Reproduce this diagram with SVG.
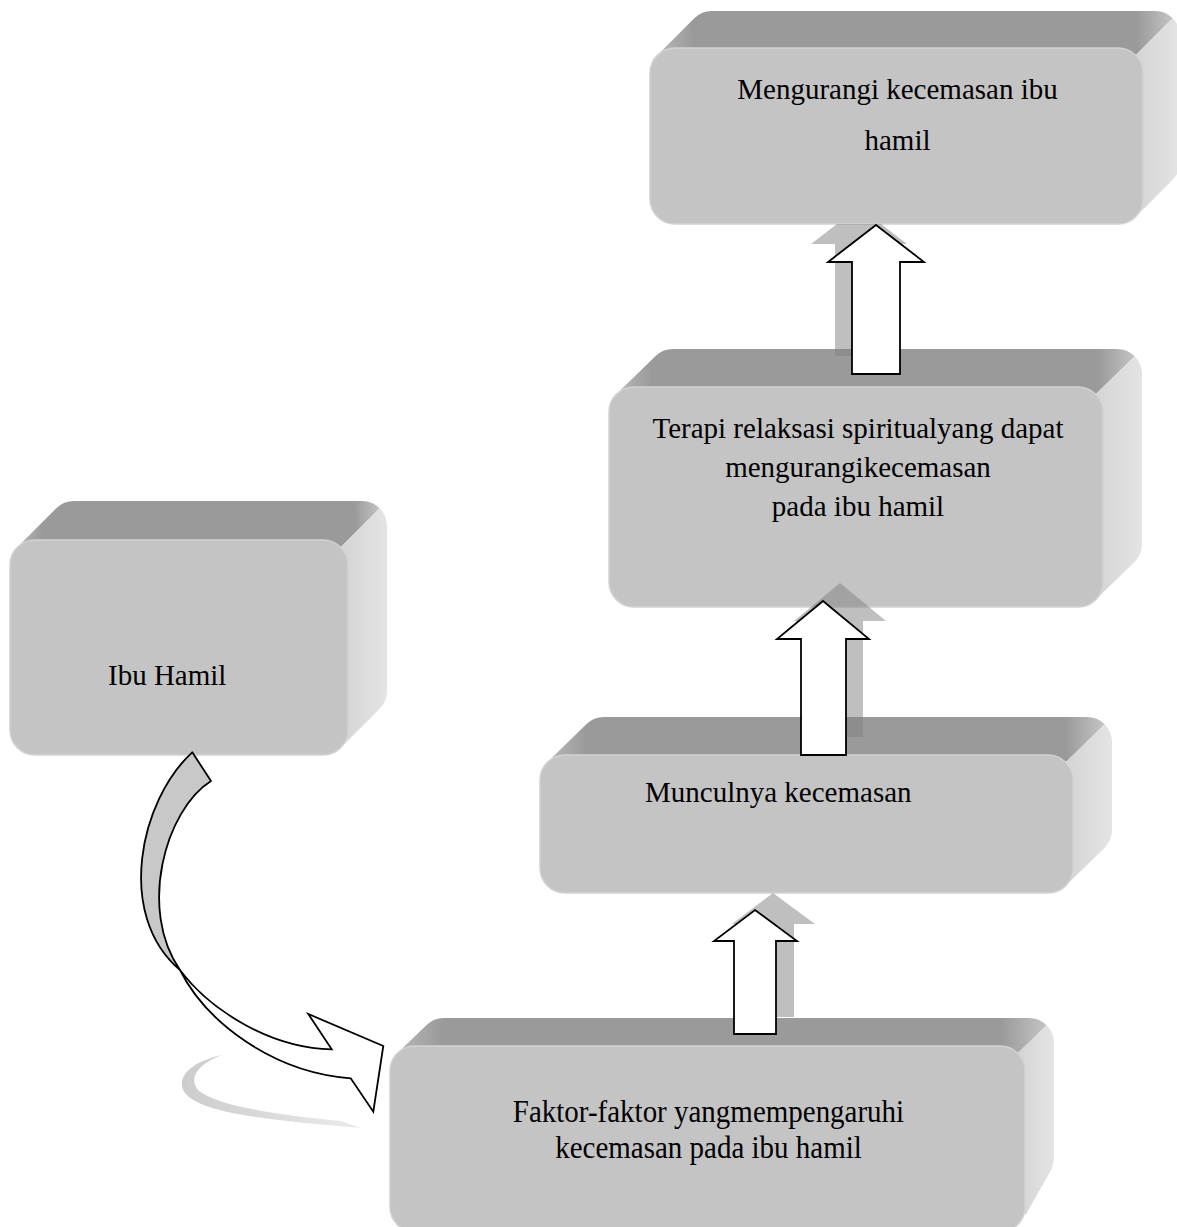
<svg xmlns="http://www.w3.org/2000/svg" width="1177" height="1227" viewBox="0 0 1177 1227">
<style>
.top{fill:url(#topGrad)}
.side{fill:url(#sideGrad)}
.front{fill:#c4c4c4;stroke:#d2d2d2;stroke-width:1.5}
.lbl{font-family:"Liberation Serif","Times New Roman",serif;font-size:29px;fill:#000}
.mid{text-anchor:middle}
.arrow{fill:#fff;stroke:#000;stroke-width:1.8;stroke-linejoin:miter}
.shadow{fill:#808080;fill-opacity:0.5}
</style>
<defs>
<linearGradient id="topGrad" x1="0" y1="0" x2="1" y2="0">
<stop offset="0" stop-color="#b8b8b8"/>
<stop offset="0.07" stop-color="#9a9a9a"/>
<stop offset="0.93" stop-color="#9a9a9a"/>
<stop offset="1" stop-color="#c4c4c4"/>
</linearGradient>
<linearGradient id="sideGrad" x1="0" y1="0" x2="1" y2="0">
<stop offset="0" stop-color="#d4d4d4"/>
<stop offset="1" stop-color="#e4e4e4"/>
</linearGradient>
<linearGradient id="swirlGrad" x1="0" y1="0" x2="1" y2="0">
<stop offset="0" stop-color="#cccccc"/>
<stop offset="1" stop-color="#ebebeb"/>
</linearGradient>
</defs>
<rect width="1177" height="1227" fill="#fff"/>

<g id="node-mengurangi">
<path class="top" d="M657.3,55.3 L694.3,18.3 A25 25 0 0 1 712,11 L1155,11 A25 25 0 0 1 1172.7,18.3 L1135.7,55.3 A25 25 0 0 0 1118,48 L675,48 A25 25 0 0 0 657.3,55.3 Z"/>
<path class="side" d="M1172.7,18.3 A25 25 0 0 1 1180,36 L1180,162 A25 25 0 0 1 1172.7,179.7 L1135.7,216.7 A25 25 0 0 0 1143,199 L1143,73 A25 25 0 0 0 1135.7,55.3 Z"/>
<rect class="front" x="650" y="48" width="493" height="176" rx="25"/>
<text class="lbl mid" x="897.5" y="99">Mengurangi kecemasan ibu</text>
<text class="lbl mid" x="897.5" y="150">hamil</text>
</g>

<g id="node-terapi">
<path class="top" d="M616.3,394.3 L655.3,356.3 A25 25 0 0 1 673,349 L1117,349 A25 25 0 0 1 1134.7,356.3 L1095.7,394.3 A25 25 0 0 0 1078,387 L634,387 A25 25 0 0 0 616.3,394.3 Z"/>
<path class="side" d="M1134.7,356.3 A25 25 0 0 1 1142,374 L1142,544 A25 25 0 0 1 1134.7,561.7 L1095.7,599.7 A25 25 0 0 0 1103,582 L1103,412 A25 25 0 0 0 1095.7,394.3 Z"/>
<rect class="front" x="609" y="387" width="494" height="220" rx="25"/>
<text class="lbl mid" x="858" y="438">Terapi relaksasi spiritualyang dapat</text>
<text class="lbl mid" x="858" y="477">mengurangikecemasan</text>
<text class="lbl mid" x="858" y="516">pada ibu hamil</text>
</g>

<g id="node-ibu-hamil">
<path class="top" d="M17.3,547.3 L56.3,508.3 A25 25 0 0 1 74,501 L362,501 A25 25 0 0 1 379.7,508.3 L340.7,547.3 A25 25 0 0 0 323,540 L35,540 A25 25 0 0 0 17.3,547.3 Z"/>
<path class="side" d="M379.7,508.3 A25 25 0 0 1 387,526 L387,691 A25 25 0 0 1 379.7,708.7 L340.7,747.7 A25 25 0 0 0 348,730 L348,565 A25 25 0 0 0 340.7,547.3 Z"/>
<rect class="front" x="10" y="540" width="338" height="215" rx="25"/>
<text class="lbl" x="108" y="685">Ibu Hamil</text>
</g>

<g id="node-munculnya">
<path class="top" d="M547.3,762.3 L586.3,724.3 A25 25 0 0 1 604,717 L1087,717 A25 25 0 0 1 1104.7,724.3 L1065.7,762.3 A25 25 0 0 0 1048,755 L565,755 A25 25 0 0 0 547.3,762.3 Z"/>
<path class="side" d="M1104.7,724.3 A25 25 0 0 1 1112,742 L1112,830 A25 25 0 0 1 1104.7,847.7 L1065.7,885.7 A25 25 0 0 0 1073,868 L1073,780 A25 25 0 0 0 1065.7,762.3 Z"/>
<rect class="front" x="540" y="755" width="533" height="138" rx="25"/>
<text class="lbl" x="645" y="802">Munculnya kecemasan</text>
</g>

<g id="node-faktor">
<path class="top" d="M397.3,1053.3 L426.3,1025.3 A25 25 0 0 1 444,1018 L1029,1018 A25 25 0 0 1 1046.7,1025.3 L1017.7,1053.3 A25 25 0 0 0 1000,1046 L415,1046 A25 25 0 0 0 397.3,1053.3 Z"/>
<path class="side" d="M1046.7,1025.3 A25 25 0 0 1 1054,1043 L1054,1156 Q1054,1165 1050,1172 L1025,1216 L1025,1071 A25 25 0 0 0 1017.7,1053.3 Z"/>
<rect class="front" x="390" y="1046" width="635" height="186" rx="25"/>
<text class="lbl mid" transform="translate(708.5,1122) scale(1,1.12)">Faktor-faktor yangmempengaruhi</text>
<text class="lbl mid" transform="translate(708.5,1158) scale(1,1.12)">kecemasan pada ibu hamil</text>
</g>

<g id="connectors">
<path d="M222,1055 C190,1062 175,1078 185,1093 C200,1112 260,1120 362,1128 L340,1121 C270,1114 215,1105 198,1090 C188,1078 198,1064 222,1055 Z" fill="url(#swirlGrad)"/>
<path d="M192.3,752.3 C140,800 115,915 180,970 C138,910 165,810 211,781 Z" fill="#c8c8c8" stroke="#000" stroke-width="1.8" stroke-linejoin="round"/>
<path class="arrow" d="M180,970 C205,1020 270,1072 350.7,1078.3 L373.3,1111.7 L383.3,1046 L308.3,1014 L331.7,1049.3 C270,1048 210,1010 180,970 Z"/>

<polygon class="shadow" points="837,224 881,224 907,244 883,244 883,356 835,356 835,244 811,244"/>
<polygon class="arrow" points="876,225 924,262 900,262 900,374 852,374 852,262 828,262"/>

<polygon class="shadow" points="840,583 886,621 863,621 863,737 818,737 818,621 794,621"/>
<polygon class="arrow" points="823,601 869,639 846,639 846,755 801,755 801,639 777,639"/>

<polygon class="shadow" points="773,893 815,924 794,924 794,1017 752,1017 752,924 732,924"/>
<polygon class="arrow" points="755,910 797,941 776,941 776,1034 734,1034 734,941 714,941"/>
</g>
</svg>
